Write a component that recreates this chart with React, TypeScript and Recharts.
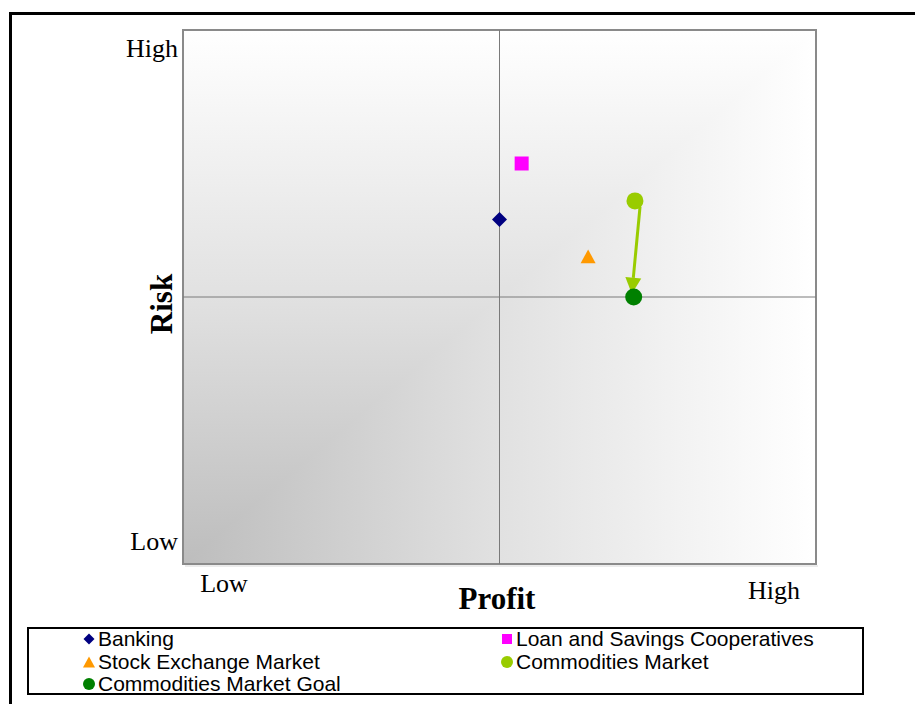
import React from "react"
import {
  ComposedChart,
  Scatter,
  XAxis,
  YAxis,
  ReferenceArea,
  ReferenceLine,
  Label,
} from "recharts"

// Positions on a 0–10 profit / risk scale
const banking = [{ x: 5.0, y: 6.45 }]
const loanCoops = [{ x: 5.35, y: 7.5 }]
const stockExchange = [{ x: 6.4, y: 5.75 }]
const commodities = [{ x: 7.14, y: 6.8 }]
const commoditiesGoal = [{ x: 7.12, y: 5.0 }]

// Move from the current commodities position toward the goal
const arrowFrom = { x: 7.22, y: 6.69 }
const arrowTo = { x: 7.09, y: 5.06 }

const axisTicks = [0, 10]
const tickLabels: Record<number, string> = { 0: "Low", 10: "High" }
const midpoint = 5

const SERIF = "'Liberation Serif', 'Times New Roman', serif"
const SANS = "'Liberation Sans', Arial, sans-serif"

const C_BANK = "#000080"
const C_LOAN = "#ff00ff"
const C_STOCK = "#ff9900"
const C_COMM = "#99cc00"
const C_GOAL = "#008000"

const Diamond = ({ cx, cy, r, fill }: any) => (
  <polygon points={`${cx},${cy - r} ${cx + r},${cy} ${cx},${cy + r} ${cx - r},${cy}`} fill={fill} />
)
const Square = ({ cx, cy, r, fill }: any) => (
  <rect x={cx - r} y={cy - r} width={2 * r} height={2 * r} fill={fill} />
)
const Triangle = ({ cx, cy, r, fill }: any) => (
  <polygon points={`${cx},${cy - r} ${cx + r},${cy + r * 0.85} ${cx - r},${cy + r * 0.85}`} fill={fill} />
)
const Dot = ({ cx, cy, r, fill }: any) => <circle cx={cx} cy={cy} r={r} fill={fill} />

// background: darkest in the low/low corner, fading out by max(profit, risk)
const PlotBackground = ({ x, y, width, height }: any) => {
  const l = x, t = y, r = x + width, b = y + height
  return (
    <g>
      <defs>
        <linearGradient id="bgH" x1="0" y1="0" x2="1" y2="0">
          <stop offset="0" stopColor="#bdbdbd" />
          <stop offset="0.5" stopColor="#e1e1e1" />
          <stop offset="1" stopColor="#ffffff" />
        </linearGradient>
        <linearGradient id="bgV" x1="0" y1="1" x2="0" y2="0">
          <stop offset="0" stopColor="#bdbdbd" />
          <stop offset="0.5" stopColor="#e1e1e1" />
          <stop offset="1" stopColor="#ffffff" />
        </linearGradient>
      </defs>
      <rect x={l} y={t} width={width} height={height} fill="url(#bgH)" />
      <polygon points={`${l},${b} ${l},${t} ${r},${t}`} fill="url(#bgV)" />
      <line x1={l + 2} y1={b + 2} x2={r + 2} y2={b + 2} stroke="#d8d8d8" strokeWidth={1} />
      <rect x={l} y={t} width={width} height={height} fill="none" stroke="#8a8a8a" strokeWidth={2} />
    </g>
  )
}

const Arrow = ({ x1, y1, x2, y2 }: any) => {
  const dx = x2 - x1, dy = y2 - y1
  const len = Math.sqrt(dx * dx + dy * dy)
  const ux = dx / len, uy = dy / len
  const headLen = 16, headHalf = 8
  const bx = x2 - ux * headLen, by = y2 - uy * headLen
  const px = -uy, py = ux
  return (
    <g>
      <line x1={x1} y1={y1} x2={bx} y2={by} stroke={C_COMM} strokeWidth={3} />
      <polygon
        points={`${x2},${y2} ${bx + px * headHalf},${by + py * headHalf} ${bx - px * headHalf},${by - py * headHalf}`}
        fill={C_COMM}
      />
    </g>
  )
}

const XTick = ({ x, y, payload }: any) => {
  const high = payload.value === 10
  return (
    <text x={x + (high ? -42 : 41)} y={y + (high ? 35 : 28)} textAnchor="middle" fontFamily={SERIF} fontSize={26} fill="#000">
      {tickLabels[payload.value]}
    </text>
  )
}

const YTick = ({ x, y, payload }: any) => {
  const high = payload.value === 10
  return (
    <text x={x} y={y + (high ? 27 : -14)} textAnchor="end" fontFamily={SERIF} fontSize={26} fill="#000">
      {tickLabels[payload.value]}
    </text>
  )
}

const legendItems = [
  { name: "Banking", color: C_BANK, shape: "diamond" },
  { name: "Loan and Savings Cooperatives", color: C_LOAN, shape: "square" },
  { name: "Stock Exchange Market", color: C_STOCK, shape: "triangle" },
  { name: "Commodities Market", color: C_COMM, shape: "circle" },
  { name: "Commodities Market Goal", color: C_GOAL, shape: "circle" },
]

const LegendMarker = ({ shape, color }: { shape: string; color: string }) => {
  const s = { cx: 6, cy: 6, r: 5.5, fill: color }
  return (
    <svg width={12} height={12} style={{ marginRight: 3, flex: "none" }}>
      {shape === "diamond" && <Diamond {...s} />}
      {shape === "square" && <Square {...s} r={5} />}
      {shape === "triangle" && <Triangle {...s} r={6} cy={6.5} />}
      {shape === "circle" && <Dot {...s} r={6} />}
    </svg>
  )
}

export default function App() {
  return (
    <div style={{ position: "absolute", left: 0, top: 0, width: 915, height: 704, overflow: "hidden", background: "#fff" }}>
      <div style={{ position: "absolute", left: 9, top: 12, width: 1000, height: 800, border: "3px solid #000" }} />
      <div style={{ position: "absolute", left: 0, top: 0 }}>
        <ComposedChart width={915} height={620} margin={{ top: 30, right: 99, bottom: 6, left: 123 }}>
          <XAxis
            type="number"
            dataKey="x"
            domain={[0, 10]}
            ticks={axisTicks}
            axisLine={false}
            tickLine={false}
            tickSize={0}
            tickMargin={0}
            height={50}
            tick={<XTick />}
            allowDataOverflow
          >
            <Label
              content={() => (
                <text x={497} y={609} textAnchor="middle" fontFamily={SERIF} fontSize={31} fontWeight="bold" fill="#000">
                  Profit
                </text>
              )}
            />
          </XAxis>
          <YAxis
            type="number"
            dataKey="y"
            domain={[0, 10]}
            ticks={axisTicks}
            axisLine={false}
            tickLine={false}
            tickSize={0}
            tickMargin={5}
            width={60}
            tick={<YTick />}
            allowDataOverflow
          >
            <Label
              content={() => (
                <text
                  x={172}
                  y={304}
                  textAnchor="middle"
                  transform="rotate(-90, 172, 304)"
                  fontFamily={SERIF}
                  fontSize={31}
                  fontWeight="bold"
                  fill="#000"
                >
                  Risk
                </text>
              )}
            />
          </YAxis>
          <ReferenceArea x1={0} x2={10} y1={0} y2={10} shape={<PlotBackground />} ifOverflow="visible" />
          <ReferenceLine x={midpoint} stroke="#7a7a7a" strokeWidth={1} />
          <ReferenceLine y={midpoint} stroke="#7a7a7a" strokeWidth={1} />
          <Scatter data={loanCoops} fill={C_LOAN} shape={(p: any) => <Square {...p} r={7} fill={C_LOAN} />} isAnimationActive={false} />
          <Scatter data={stockExchange} fill={C_STOCK} shape={(p: any) => <Triangle {...p} r={7.5} fill={C_STOCK} />} isAnimationActive={false} />
          <Scatter data={commoditiesGoal} fill={C_GOAL} shape={(p: any) => <Dot {...p} r={8.5} fill={C_GOAL} />} isAnimationActive={false} />
          <Scatter data={commodities} fill={C_COMM} shape={(p: any) => <Dot {...p} r={8.5} fill={C_COMM} />} isAnimationActive={false} />
          <Scatter data={banking} fill={C_BANK} shape={(p: any) => <Diamond {...p} r={7.5} fill={C_BANK} />} isAnimationActive={false} />
          <ReferenceLine segment={[arrowFrom, arrowTo]} shape={<Arrow />} ifOverflow="visible" />
        </ComposedChart>
      </div>
      <div
        style={{
          position: "absolute",
          left: 27,
          top: 627,
          width: 837,
          height: 68,
          boxSizing: "border-box",
          border: "2px solid #000",
          background: "#fff",
          fontFamily: SANS,
          fontSize: 21,
          lineHeight: "22.5px",
          color: "#000",
        }}
      >
        {legendItems.map((it, i) => (
          <div
            key={it.name}
            style={{
              position: "absolute",
              left: i % 2 === 0 ? 54 : 472,
              top: -1 + Math.floor(i / 2) * 22.5,
              display: "flex",
              alignItems: "center",
              whiteSpace: "nowrap",
            }}
          >
            <LegendMarker shape={it.shape} color={it.color} />
            <span>{it.name}</span>
          </div>
        ))}
      </div>
    </div>
  )
}
